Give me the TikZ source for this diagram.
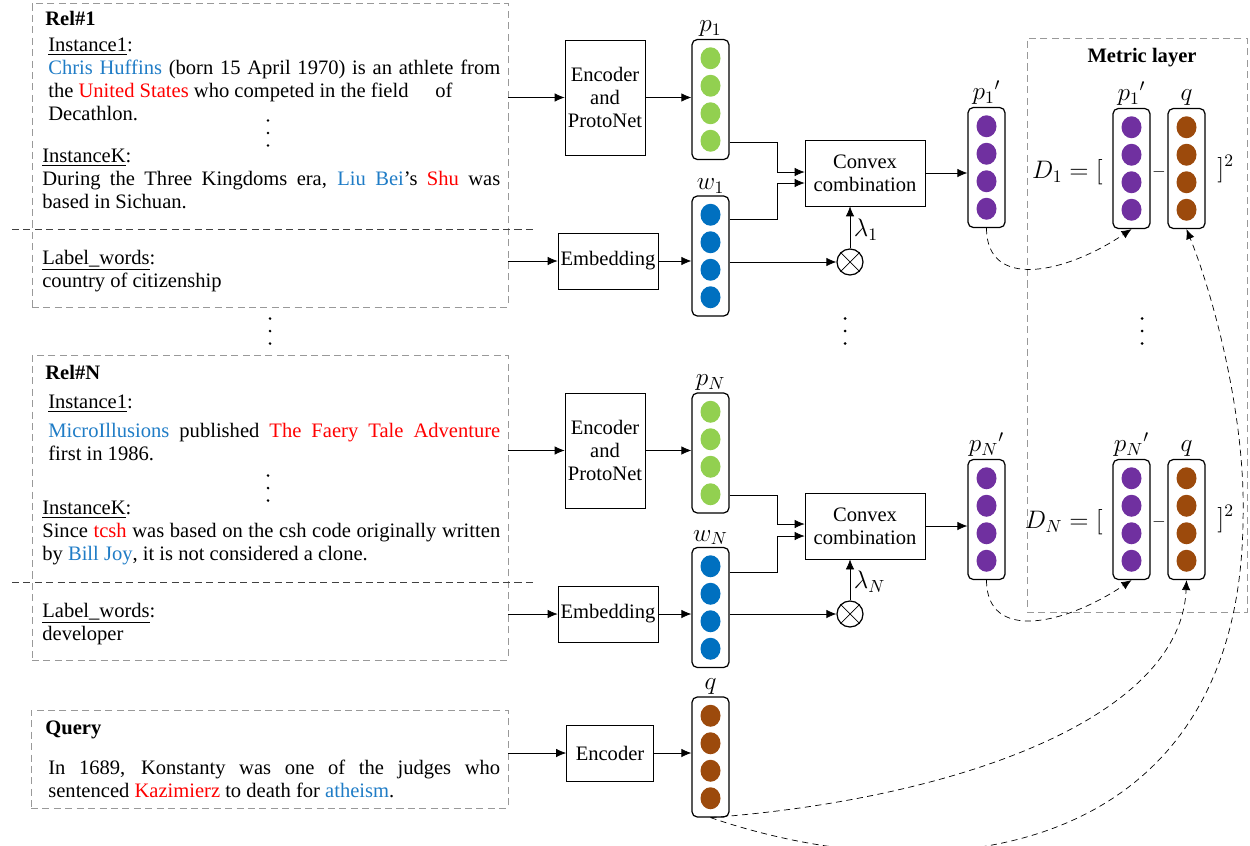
\documentclass[tikz,border=0pt]{standalone}
\usepackage[no-math]{fontspec}
\setmainfont{Liberation Serif}
\usepackage{tikz}
\usetikzlibrary{shapes.geometric, arrows, arrows.meta, positioning, calc}

\definecolor{headblue}{HTML}{1F7CC6}
\definecolor{tailred}{HTML}{FF0000}
\definecolor{protogreen}{HTML}{92D050}
\definecolor{wordblue}{HTML}{0070C0}
\definecolor{mixpurple}{HTML}{7030A0}
\definecolor{querybrown}{HTML}{9C4A0C}

\newcommand{\bodyfont}{\fontsize{11.7}{13.1}\selectfont}
\newcommand{\hent}[1]{\textcolor{headblue}{#1}}
\newcommand{\tent}[1]{\textcolor{tailred}{#1}}
\newcommand{\fullline}[2]{\makebox[#1][s]{#2}}

\tikzstyle{relbox} = [
	rectangle,
	draw=black!40,
	dash pattern=on 4pt off 2.5pt,
	minimum width=9.52cm,
	inner sep=0
]
\tikzstyle{separator} = [
	draw=black!75,
	dash pattern=on 4pt off 2.5pt
]
\tikzstyle{process} = [
	rectangle,
	text centered,
	align=center,
	draw=black,
	inner sep=0,
	font=\bodyfont
]
\tikzstyle{vecbox} = [
	rectangle,
	rounded corners=3pt,
	draw=black,
	line width=0.7pt,
	minimum width=0.74cm,
	minimum height=2.4cm,
	inner sep=0
]
\tikzstyle{veclabel} = [inner sep=0, font=\fontsize{14}{16}\selectfont]
\tikzstyle{sample} = [anchor=north west, inner sep=0, align=left, font=\bodyfont]
\tikzstyle{heading} = [anchor=west, inner sep=0, font=\bodyfont\bfseries]
\tikzstyle{mixer} = [circle, draw=black, line width=0.7pt, minimum size=0.52cm, inner sep=0]
\tikzstyle{formula} = [inner sep=0, font=\fontsize{14}{16}\selectfont]
\tikzstyle{weight} = [right=2pt, pos=0.45, inner sep=0, font=\fontsize{14}{16}\selectfont]
\tikzstyle{arrow} = [->,>={Latex[length=2mm,width=1.7mm]}]
\tikzstyle{link} = [dash pattern=on 3.5pt off 2.5pt,->,>={Latex[length=2mm,width=1.7mm]}]

% vector of four dots with its name above
\newcommand{\vecnode}[4]{%
	\node (#1) [vecbox] at (#2) {};
	\foreach \k in {0,1,2,3}
		\fill [#3] ($(#1.center)+(0,27.5*\k-41.25)$) ellipse [x radius=0.2cm, y radius=0.22cm];
	\node (#1label) [veclabel, above=1pt of #1] {#4};
}
% three stacked dots
\newcommand{\skipdots}[1]{%
	\foreach \d in {-12.5,0,12.5}
		\fill ($(#1)+(0,\d)$) circle (0.85pt);
}

\begin{document}
\begin{tikzpicture}[x=0.02cm, y=-0.02cm]
	\useasboundingbox (0,0) rectangle (1250,845);

	% relation 1
	\node (rela) [relbox, minimum height=6.08cm] at (270,155) {};
	\node (titlea) [heading] at (45,18) {Rel\#1};
	\node (firsta) [sample] at (48,38) {\underline{Instance1}:\\
		\fullline{9.04cm}{\hent{Chris Huffins} (born 15 April 1970) is an athlete from}\\
		the \tent{United States} who competed in the field\hspace{1.3em}of\\
		Decathlon.};
	\skipdots{268,133}
	\node (lasta) [sample] at (42,149) {\underline{InstanceK}:\\
		\fullline{9.16cm}{During the Three Kingdoms era, \hent{Liu Bei}'s \tent{Shu} was}\\
		based in Sichuan.};
	\node (labela) [sample] at (42,250) {\underline{Label\_words}:\\
		country of citizenship};
	\draw [separator] (12,229) -- (537,229);

	% relation N
	\node (reln) [relbox, minimum height=6.1cm] at (270,507.5) {};
	\node (titlen) [heading] at (45,372) {Rel\#N};
	\node (firstn) [sample] at (48,395) {\underline{Instance1}:\\[3.4pt]
		\fullline{9.04cm}{\hent{MicroIllusions} published \tent{The Faery Tale Adventure}}\\
		first in 1986.};
	\skipdots{268,488}
	\node (lastn) [sample] at (42,501) {\underline{InstanceK}:\\
		\fullline{9.16cm}{Since \tent{tcsh} was based on the csh code originally written}\\
		by \hent{Bill Joy}, it is not considered a clone.};
	\node (labeln) [sample] at (42,603) {\underline{Label\_words}:\\
		developer};
	\draw [separator] (12,582) -- (537,582);

	% query
	\node (query) [relbox, minimum width=9.54cm, minimum height=1.96cm] at (269.5,759) {};
	\node (querytitle) [heading] at (45,730) {Query};
	\node (querytext) [sample] at (48,760) {%
		\fullline{9.04cm}{In 1689, Konstanty was one of the judges who}\\
		sentenced \tent{Kazimierz} to death for \hent{atheism}.};

	% skipped relations
	\skipdots{270,331}
	\skipdots{845,331}
	\skipdots{1142,331}

	% branch 1
	\node (encodera) [process, minimum width=1.6cm, minimum height=2.3cm] at (605,97.5) {Encoder\\and\\ProtoNet};
	\node (embeda) [process, minimum width=2cm, minimum height=1.12cm] at (608,261) {Embedding};
	\vecnode{protoa}{710.5,99.5}{protogreen}{$p_1$}
	\vecnode{worda}{710.5,256}{wordblue}{$w_1$}
	\node (convexa) [process, minimum width=2.4cm, minimum height=1.32cm] at (865,173) {Convex\\combination};
	\node (mixera) [mixer] at (850,262) {};
	\draw (mixera.north west) -- (mixera.south east) (mixera.north east) -- (mixera.south west);
	\vecnode{mixa}{986.5,167.5}{mixpurple}{${p_1}'$}

	% branch N
	\node (encodern) [process, minimum width=1.6cm, minimum height=2.3cm] at (605,450.5) {Encoder\\and\\ProtoNet};
	\node (embedn) [process, minimum width=2cm, minimum height=1.12cm] at (608,614) {Embedding};
	\vecnode{proton}{710.5,453}{protogreen}{$p_N$}
	\vecnode{wordn}{710.5,607.5}{wordblue}{$w_N$}
	\node (convexn) [process, minimum width=2.4cm, minimum height=1.32cm] at (865,526) {Convex\\combination};
	\node (mixern) [mixer] at (850,614) {};
	\draw (mixern.north west) -- (mixern.south east) (mixern.north east) -- (mixern.south west);
	\vecnode{mixn}{986.5,519.5}{mixpurple}{${p_N}'$}

	% query branch
	\node (queryenc) [process, minimum width=1.74cm, minimum height=1.12cm] at (610,753) {Encoder};
	\vecnode{queryvec}{710.5,757}{querybrown}{$q$}

	% metric layer
	\node (metric) [relbox, minimum width=4.4cm, minimum height=11.48cm] at (1137,325) {};
	\node (metrictitle) [font=\bodyfont\bfseries] at (1142,58) {Metric layer};
	\vecnode{metmixa}{1131.5,168.5}{mixpurple}{${p_1}'$}
	\vecnode{metquerya}{1186.5,168.5}{querybrown}{$q$}
	\node (dista) [formula, anchor=east] at (1103,172) {$D_1=[$};
	\node (minusa) [formula] at (1159,172) {$\scriptstyle -$};
	\node (squarea) [formula, anchor=west] at (1217,169) {$]^2$};
	\vecnode{metmixn}{1131.5,519.5}{mixpurple}{${p_N}'$}
	\vecnode{metqueryn}{1186.5,519.5}{querybrown}{$q$}
	\node (distn) [formula, anchor=east] at (1103,522) {$D_N=[$};
	\node (minusn) [formula] at (1159,522) {$\scriptstyle -$};
	\node (squaren) [formula, anchor=west] at (1217,519) {$]^2$};

	\draw [arrow] (encodera -| rela.east) -- (encodera);
	\draw [arrow] (encodera) -- (encodera -| protoa.west);
	\draw [arrow] (embeda -| rela.east) -- (embeda);
	\draw [arrow] (embeda) -- (embeda -| worda.west);
	\draw [arrow] (worda.east |- mixera) -- (mixera);
	\draw [arrow] ($(protoa.east)+(0,42.5)$) -- ++(48,0) |- ($(convexa.west)+(0,-1)$);
	\draw [arrow] ($(worda.east)+(0,-37)$) -- ++(48,0) |- ($(convexa.west)+(0,10)$);
	\draw [arrow] (mixera) -- node[weight] {$\lambda_1$} (mixera |- convexa.south);
	\draw [arrow] (convexa) -- (convexa -| mixa.west);
	\draw [link] (mixa.south) .. controls +(0,62) and +(-67,45) .. (metmixa.south);

	\draw [arrow] (encodern -| reln.east) -- (encodern);
	\draw [arrow] (encodern) -- (encodern -| proton.west);
	\draw [arrow] (embedn -| reln.east) -- (embedn);
	\draw [arrow] (embedn) -- (embedn -| wordn.west);
	\draw [arrow] (wordn.east |- mixern) -- (mixern);
	\draw [arrow] ($(proton.east)+(0,42)$) -- ++(48,0) |- ($(convexn.west)+(0,-2)$);
	\draw [arrow] ($(wordn.east)+(0,-35.5)$) -- ++(48,0) |- ($(convexn.west)+(0,10)$);
	\draw [arrow] (mixern) -- node[weight] {$\lambda_N$} (mixern |- convexn.south);
	\draw [arrow] (convexn) -- (convexn -| mixn.west);
	\draw [link] (mixn.south) .. controls +(0,62) and +(-67,45) .. (metmixn.south);

	\draw [arrow] (queryenc -| query.east) -- (queryenc);
	\draw [arrow] (queryenc) -- (queryenc -| queryvec.west);
	\draw [link] (queryvec.south) .. controls +(240,-18) and +(-6,140) .. (metqueryn.south);
	\draw [link] (queryvec.south) .. controls +(240,82) and (1240,850) .. (1243,520)
		.. controls (1246,420) and (1215,300) .. (metquerya.south);
\end{tikzpicture}
\end{document}
